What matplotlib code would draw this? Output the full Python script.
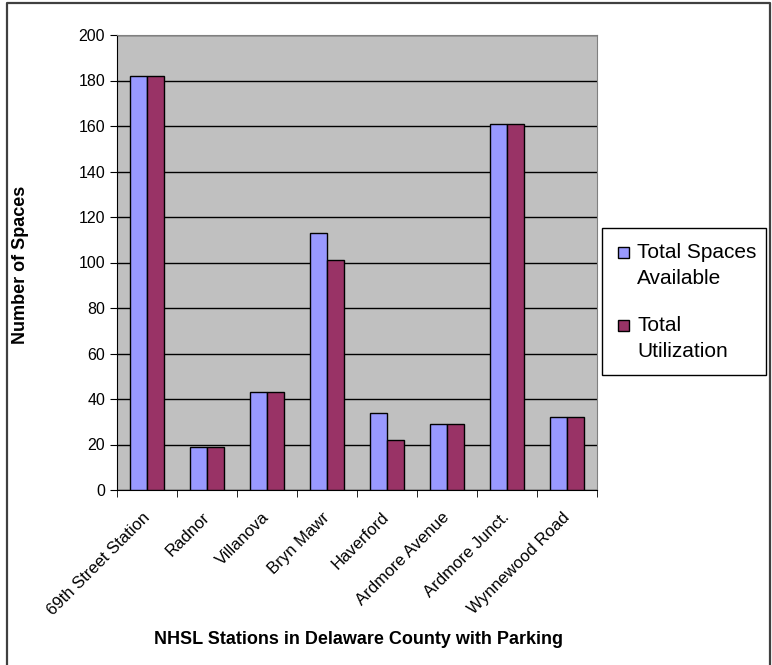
import matplotlib.pyplot as plt
import numpy as np
from matplotlib.lines import Line2D
from matplotlib.patches import Rectangle
from matplotlib.transforms import ScaledTranslation

plt.rcParams["font.family"] = ["Liberation Sans", "DejaVu Sans"]

stations = ["69th Street Station", "Radnor", "Villanova", "Bryn Mawr",
            "Haverford", "Ardmore Avenue", "Ardmore Junct.", "Wynnewood Road"]
spaces_available = [182, 19, 43, 113, 34, 29, 161, 32]
utilization = [182, 19, 43, 101, 22, 29, 161, 32]
series_names = ["Total Spaces\nAvailable", "Total\nUtilization"]
colors = ["#9999FF", "#993366"]

W, H = 772, 665
fig = plt.figure(figsize=(W / 100, H / 100), dpi=100)
ax = fig.add_axes([117 / W, 175 / H, 480 / W, 455 / H])

x = np.arange(len(stations))
w = 1 / 3.5
ax.bar(x - w / 2, spaces_available, w, color=colors[0], edgecolor="black",
       linewidth=1, zorder=3)
ax.bar(x + w / 2, utilization, w, color=colors[1], edgecolor="black",
       linewidth=1, zorder=3)

ax.set_facecolor("#C0C0C0")
ax.set_xlim(-0.5, len(stations) - 0.5)
ax.set_ylim(0, 200)
ax.set_yticks(np.arange(0, 201, 20))
ax.yaxis.grid(True, color="black", linewidth=1, zorder=1)
ax.set_axisbelow(True)

ax.set_xticks(x)
ax.set_xticklabels(stations, rotation=45, ha="right", va="center",
                   rotation_mode="anchor")
shift = ScaledTranslation(-3 / 100, 0, fig.dpi_scale_trans)
for lab in ax.get_xticklabels():
    lab.set_transform(lab.get_transform() + shift)
ax.set_xticks(np.arange(-0.5, len(stations)), minor=True)
ax.tick_params(axis="x", which="major", length=0, pad=18, labelsize=12)
ax.tick_params(axis="x", which="minor", length=5, direction="out", color="black")
ax.tick_params(axis="y", length=5, direction="out", labelsize=11.5)

for side in ["top", "right"]:
    ax.spines[side].set_color("#808080")
ax.spines["left"].set_color("black")
ax.spines["bottom"].set_color("black")

fig.text(21 / W, 1 - 265 / H, "Number of Spaces", rotation=90,
         ha="center", va="center", fontsize=13, fontweight="bold")
fig.text(358 / W, 1 - 640 / H, "NHSL Stations in Delaware County with Parking",
         ha="center", va="center", fontsize=13, fontweight="bold")

# legend box, with each swatch beside the first line of its label
def fx(px):
    return px / W

def fy(py):
    return 1 - py / H

fig.add_artist(Rectangle((fx(602), fy(375)), fx(164), 147 / H,
                         transform=fig.transFigure, facecolor="white",
                         edgecolor="black", linewidth=1))
for i, (name, col) in enumerate(zip(series_names, colors)):
    base = 258 + 73 * i
    fig.add_artist(Rectangle((fx(618), fy(base)), fx(10.5), 10.5 / H,
                             transform=fig.transFigure, facecolor=col,
                             edgecolor="black", linewidth=1))
    for j, line in enumerate(name.split("\n")):
        fig.text(fx(637), fy(base + 26 * j), line, ha="left", va="baseline",
                 fontsize=15)

# chart border (left, top, right)
bx0, bx1, by = 6.5 / W, 769.5 / W, 1 - 2.5 / H
fig.add_artist(Line2D([bx0, bx0, bx1, bx1], [0, by, by, 0],
                      transform=fig.transFigure, color="#404040", linewidth=1.6))

fig.savefig("out.png", dpi=100)
